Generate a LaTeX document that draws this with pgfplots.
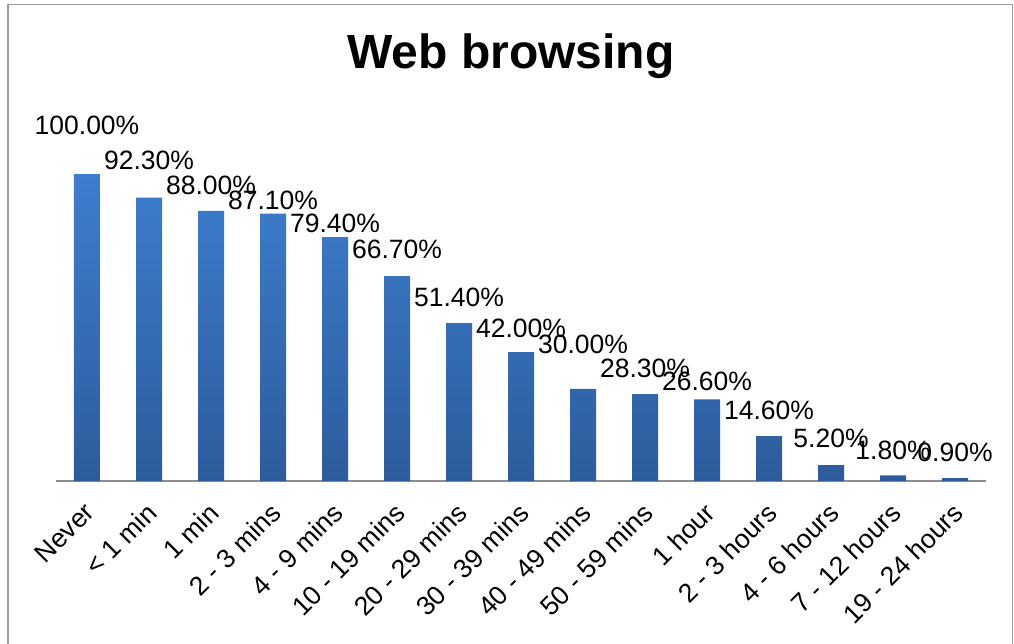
\documentclass[border=0pt]{standalone}
\usepackage{pgfplots}
\pgfplotsset{compat=1.18}
\usepackage{fontspec}
\setmainfont{Liberation Sans}
\definecolor{bartop}{RGB}{61,126,206}
\definecolor{barbot}{RGB}{45,92,156}
\definecolor{framegray}{RGB}{155,155,155}
\definecolor{axisgray}{RGB}{140,140,140}

\pgfplotstableread{
x val ly
0 100.0 116.0
1 92.3 104.6
2 88.0 96.3
3 87.1 91.5
4 79.4 84.0
5 66.7 75.6
6 51.4 59.9
7 42.0 49.8
8 30.0 44.6
9 28.3 36.8
10 26.6 32.6
11 14.6 23.1
12 5.2 14.0
13 1.8 10.1
14 0.9 9.4
}\datatable

\begin{document}
\begin{tikzpicture}[x=1pt,y=1pt]
\useasboundingbox (-56,-162) rectangle (958,481);
\draw[framegray, line width=1.5pt] (-48,-170) -- (-48,476.5) -- (956.5,476.5) -- (956.5,-170);
\node[font=\fontsize{48}{54}\selectfont\bfseries] at (455,425) {Web browsing};
\begin{axis}[
  at={(0,0)}, anchor=south west,
  scale only axis, width=930pt, height=368.4pt,
  xmin=-0.5, xmax=14.5, ymin=0, ymax=120,
  clip=false,
  axis x line=bottom, axis y line=none,
  x axis line style={axisgray, line width=1.2pt, -},
  major tick length=0pt,
  ytick=\empty,
  xtick={0,...,14},
  xticklabels={Never,< 1 min,1 min,2 - 3 mins,4 - 9 mins,10 - 19 mins,20 - 29 mins,30 - 39 mins,40 - 49 mins,50 - 59 mins,1 hour,2 - 3 hours,4 - 6 hours,7 - 12 hours,19 - 24 hours},
  xticklabel style={xshift=-4pt, yshift=-20pt, rotate=45, anchor=north east, font=\fontsize{26.5}{30}\selectfont, inner sep=0pt},
  /pgf/number format/assume math mode=true,
]
\addplot[ybar, bar width=26pt, draw=none, top color=bartop, bottom color=barbot]
  table[x=x, y=val] {\datatable};
\addplot[draw=none, mark=none, nodes near coords={\pgfmathprintnumber[fixed, fixed zerofill, precision=2]{\pgfplotspointmeta}\%},
  point meta=explicit,
  every node near coord/.style={anchor=center, font=\fontsize{26.5}{30}\selectfont, text=black}]
  table[x=x, y=ly, meta=val] {\datatable};
\end{axis}
\end{tikzpicture}
\end{document}
